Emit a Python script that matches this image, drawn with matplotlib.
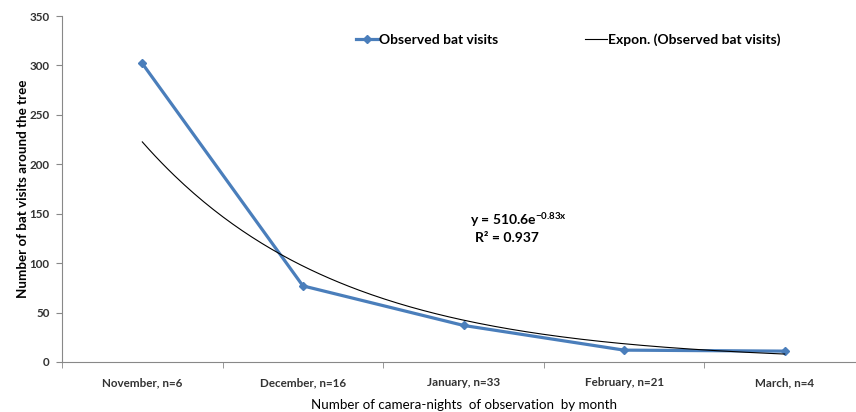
import numpy as np
import matplotlib
matplotlib.use("Agg")
import matplotlib.pyplot as plt

plt.rcParams['font.family'] = ['Lato', 'DejaVu Sans']
plt.rcParams['mathtext.default'] = 'regular'

# data
months = ["November, n=6", "December, n=16", "January, n=33", "February, n=21", "March, n=4"]
visits = [302, 77, 37, 12, 11]

# exponential trendline as printed on the chart
fit_a = 510.6
fit_b = -0.83
fit_r2 = 0.937

x = np.arange(1, len(months) + 1)
x_fit = np.linspace(1, len(months), 200)
y_fit = fit_a * np.exp(fit_b * x_fit)

fig = plt.figure(figsize=(8.56, 4.12), dpi=100)
ax = fig.add_axes([62 / 856, 1 - 362 / 412, (865 - 62) / 856, (362 - 16) / 412])

ax.plot(x, visits, color="#4a7ebb", linewidth=2.3, marker="D", markersize=4.5,
        label="Observed bat visits", zorder=2)
ax.plot(x_fit, y_fit, color="black", linewidth=0.8,
        label="Expon. (Observed bat visits)", zorder=3)

ax.set_xlim(0.5, len(months) + 0.5)
ax.set_ylim(0, 350)
ax.set_yticks(range(0, 351, 50))
ax.set_xticks(x)
ax.set_xticklabels(months)
ax.set_xticks(np.arange(0.5, len(months) + 1, 1), minor=True)
ax.tick_params(axis='x', which='major', length=0, pad=11, labelsize=8.4)
ax.tick_params(axis='x', which='minor', length=4, color="#888888", direction='out')
ax.tick_params(axis='y', length=4, color="#888888", labelsize=8.4, pad=5)
for lab in ax.get_xticklabels() + ax.get_yticklabels():
    lab.set_fontweight('bold')
    lab.set_color("#333333")

for s in ['top', 'right']:
    ax.spines[s].set_visible(False)
for s in ['left', 'bottom']:
    ax.spines[s].set_color("#888888")
    ax.spines[s].set_linewidth(0.8)

ax.set_ylabel("Number of bat visits around the tree", fontsize=9.6, fontweight='bold', labelpad=0)
ax.set_xlabel("Number of camera-nights  of observation  by month", fontsize=9.6, labelpad=7.5)

ax.text(3.04, 144, "y = 510.6e$^{-0.83x}$", ha='left', va='center', fontsize=10, fontweight='bold')
ax.text(3.27, 125, "R² = %.3f" % fit_r2, ha='center', va='center', fontsize=10, fontweight='bold')

ax.legend(loc='upper left', bbox_to_anchor=(0.35, 0.985), ncol=2, frameon=False,
          prop={'size': 10, 'weight': 'bold'}, handlelength=1.6, handletextpad=0.1,
          columnspacing=6.2)

fig.savefig("out.png", dpi=100)
